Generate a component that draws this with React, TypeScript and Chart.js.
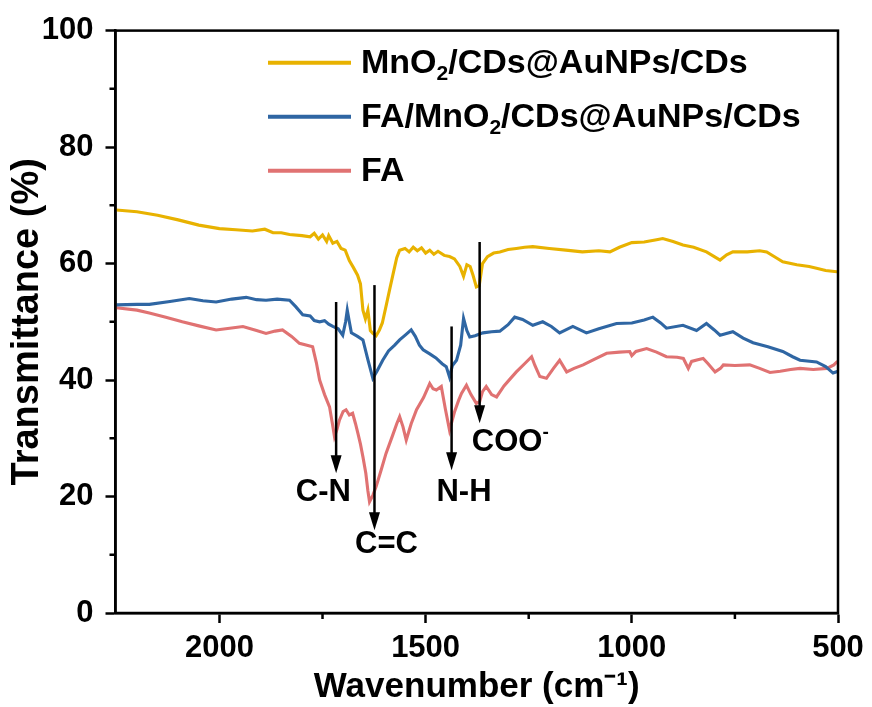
import React, { useEffect, useRef } from 'react';
import { Chart, registerables } from 'chart.js';

Chart.register(...registerables);

const FONT = "'Liberation Sans', Arial, Helvetica, sans-serif";

const SERIES_LABELS = ['MnO₂/CDs@AuNPs/CDs', 'FA/MnO₂/CDs@AuNPs/CDs', 'FA'];
const SERIES_COLORS = ['#E8B200', '#2F66A3', '#E07272'];

// MnO2/CDs@AuNPs/CDs
const mnWn = [2250, 2200, 2150, 2100, 2050, 2000, 1960, 1920, 1890, 1870, 1850, 1830, 1800, 1780, 1770, 1760, 1750, 1740, 1735, 1725, 1715, 1705, 1695, 1685, 1675, 1665, 1658, 1652, 1646, 1640, 1634, 1628, 1620, 1612, 1605, 1595, 1587, 1578, 1570, 1563, 1550, 1540, 1530, 1520, 1510, 1500, 1490, 1480, 1470, 1455, 1442, 1430, 1417, 1408, 1400, 1392, 1385, 1377, 1370, 1362, 1350, 1335, 1320, 1300, 1280, 1260, 1240, 1200, 1160, 1120, 1080, 1053, 1030, 1000, 970, 940, 925, 900, 876, 850, 819, 800, 786, 770, 755, 720, 690, 673, 650, 634, 600, 570, 552, 530, 503, 500];
const mnT = [69.2, 68.9, 68.3, 67.5, 66.6, 66.0, 65.8, 65.6, 65.9, 65.3, 65.3, 65.0, 64.8, 64.6, 65.2, 64.2, 64.9, 63.8, 64.8, 63.5, 63.8, 62.6, 62.3, 60.5, 59.3, 58.0, 56.5, 52.0, 50.5, 52.0, 48.5, 48.0, 47.6, 48.6, 49.8, 53.0, 55.6, 58.5, 61.0, 62.3, 62.6, 62.0, 62.8, 62.2, 62.7, 61.8, 62.3, 61.6, 62.1, 61.4, 61.2, 60.8, 59.5, 57.8, 59.8, 59.5, 58.0, 56.0, 56.2, 60.0, 61.2, 61.8, 62.0, 62.4, 62.6, 62.8, 62.9, 62.6, 62.3, 62.0, 62.2, 62.0, 62.8, 63.6, 63.7, 64.1, 64.3, 63.8, 63.2, 62.8, 62.0, 61.2, 60.6, 61.5, 62.0, 62.0, 62.2, 62.0, 61.0, 60.3, 59.8, 59.5, 59.2, 58.8, 58.6, 58.6];

// FA/MnO2/CDs@AuNPs/CDs
const faMnWn = [2250, 2200, 2170, 2120, 2073, 2040, 2008, 1970, 1935, 1910, 1887, 1860, 1830, 1815, 1798, 1780, 1770, 1757, 1745, 1735, 1725, 1712, 1701, 1694, 1690, 1685, 1680, 1665, 1652, 1640, 1628, 1618, 1604, 1590, 1575, 1563, 1548, 1535, 1525, 1515, 1506, 1490, 1475, 1460, 1450, 1442, 1435, 1425, 1415, 1408, 1400, 1393, 1380, 1361, 1340, 1320, 1300, 1284, 1265, 1240, 1216, 1195, 1175, 1143, 1110, 1080, 1037, 1000, 970, 949, 930, 916, 876, 843, 819, 800, 786, 755, 730, 706, 670, 634, 610, 592, 552, 530, 512, 500];
const faMnT = [52.9, 53.0, 53.0, 53.5, 54.0, 53.6, 53.4, 53.9, 54.2, 53.8, 53.7, 53.9, 53.7, 52.6, 51.2, 51.0, 50.2, 50.0, 50.2, 49.6, 49.2, 48.8, 47.7, 50.0, 52.0, 50.0, 48.1, 47.5, 46.9, 43.5, 40.3, 41.5, 43.4, 45.0, 46.0, 46.9, 47.8, 48.6, 47.5, 46.0, 45.2, 44.5, 43.8, 42.8, 42.3, 40.5, 42.5, 43.4, 46.0, 50.6, 48.5, 47.4, 47.6, 48.1, 48.3, 48.4, 49.5, 50.8, 50.4, 49.4, 50.0, 49.2, 48.1, 49.2, 48.1, 48.8, 49.7, 49.8, 50.3, 50.8, 49.8, 48.9, 49.4, 48.5, 49.7, 48.6, 47.7, 48.3, 47.2, 46.4, 45.7, 44.9, 44.0, 43.4, 43.1, 42.3, 41.2, 41.5];

// FA
const faWn = [2250, 2200, 2170, 2130, 2090, 2050, 2008, 1975, 1943, 1910, 1887, 1865, 1847, 1825, 1806, 1790, 1774, 1765, 1757, 1745, 1733, 1726, 1721, 1715, 1709, 1700, 1693, 1685, 1677, 1670, 1664, 1658, 1652, 1645, 1640, 1636, 1628, 1620, 1608, 1596, 1580, 1570, 1563, 1555, 1547, 1535, 1522, 1505, 1490, 1482, 1474, 1462, 1452, 1442, 1430, 1420, 1413, 1401, 1390, 1377, 1369, 1362, 1353, 1340, 1328, 1310, 1295, 1280, 1260, 1243, 1235, 1223, 1207, 1190, 1175, 1158, 1140, 1118, 1090, 1061, 1030, 1005, 1000, 990, 964, 940, 916, 890, 875, 863, 855, 840, 827, 815, 798, 785, 778, 750, 714, 690, 665, 640, 615, 592, 560, 527, 510, 503, 500];
const faT = [52.4, 52.0, 51.5, 50.8, 50.0, 49.3, 48.6, 48.9, 49.2, 48.5, 48.0, 48.4, 48.6, 47.5, 46.3, 46.0, 45.7, 43.0, 40.0, 37.5, 35.4, 32.5, 30.3, 31.5, 33.1, 34.6, 34.9, 34.0, 34.3, 32.5, 30.8, 29.0, 26.8, 24.0, 21.0, 19.1, 20.2, 21.7, 24.5, 27.4, 30.5, 32.5, 33.7, 32.0, 29.7, 32.5, 34.9, 37.0, 39.4, 38.5, 38.3, 38.9, 35.0, 31.4, 34.5, 36.5, 37.7, 39.1, 37.5, 36.0, 36.3, 38.0, 38.9, 37.5, 37.1, 39.0, 40.2, 41.4, 42.8, 44.0, 42.5, 40.6, 40.3, 42.0, 43.4, 41.4, 42.0, 42.6, 43.6, 44.6, 44.8, 44.9, 44.2, 44.9, 45.4, 44.8, 44.0, 43.9, 43.7, 42.0, 43.2, 43.5, 43.7, 42.8, 41.4, 42.0, 42.6, 42.5, 42.6, 42.0, 41.3, 41.5, 41.8, 42.0, 41.8, 42.0, 42.6, 43.1, 43.2];

const X_MIN = 500;
const X_MAX = 2252;
const xMajorTicks = [2000, 1500, 1000, 500];
const xMinorTicks = [1750, 1250, 750];
const yMajorTicks = [0, 20, 40, 60, 80, 100];
const yMinorTicks = [10, 30, 50, 70, 90];

// peak annotations
const arrowWn = [1717, 1624, 1437, 1369];
const arrowFrom = [53.4, 56.3, 49.2, 63.7];
const arrowTo = [24.0, 14.2, 24.5, 32.6];
const labelText = ['C-N', 'C=C', 'N-H', 'COO'];
const labelSup = ['', '', '', '-'];
const labelWn = [1748, 1595, 1407, 1388];
const labelT = [20.7, 11.8, 20.7, 29.2];
const labelAlign = ['center', 'center', 'center', 'left'];

const toPoints = (xs: number[], ys: number[]) => xs.map((x, i) => ({ x, y: ys[i] }));

type Part = { t: string; k: 'n' | 'sub' | 'sup' };

function drawRich(ctx: CanvasRenderingContext2D, parts: Part[], x: number, y: number, size: number, align: string) {
  const fontFor = (k: string) => `bold ${k === 'n' ? size : Math.round(size * 0.62)}px ${FONT}`;
  let total = 0;
  const widths = parts.map((p) => {
    ctx.font = fontFor(p.k);
    const w = ctx.measureText(p.t).width;
    total += w;
    return w;
  });
  let cx = align === 'center' ? x - total / 2 : align === 'right' ? x - total : x;
  ctx.textAlign = 'left';
  ctx.textBaseline = 'middle';
  parts.forEach((p, i) => {
    ctx.font = fontFor(p.k);
    const dy = p.k === 'sub' ? size * 0.3 : p.k === 'sup' ? -size * 0.32 : 0;
    ctx.fillText(p.t, cx, y + dy);
    cx += widths[i];
  });
}

function parseLabel(s: string): Part[] {
  const parts: Part[] = [];
  let buf = '';
  for (const ch of s) {
    if (ch === '₂') {
      if (buf) parts.push({ t: buf, k: 'n' });
      parts.push({ t: '2', k: 'sub' });
      buf = '';
    } else buf += ch;
  }
  if (buf) parts.push({ t: buf, k: 'n' });
  return parts;
}

const framePlugin = {
  id: 'frameAndExtras',
  afterDatasetsDraw(chart: any) {
    const { ctx, chartArea, scales } = chart;
    const xs = scales.x;
    const ys = scales.y;
    ctx.save();
    // frame
    ctx.strokeStyle = '#000';
    ctx.lineWidth = 2.5;
    ctx.strokeRect(chartArea.left, chartArea.top, chartArea.right - chartArea.left, chartArea.bottom - chartArea.top);
    // minor ticks
    ctx.beginPath();
    xMinorTicks.forEach((v) => {
      const px = xs.getPixelForValue(v);
      ctx.moveTo(px, chartArea.bottom);
      ctx.lineTo(px, chartArea.bottom + 6);
    });
    yMinorTicks.forEach((v) => {
      const py = ys.getPixelForValue(v);
      ctx.moveTo(chartArea.left, py);
      ctx.lineTo(chartArea.left - 6, py);
    });
    ctx.stroke();

    // arrows
    ctx.fillStyle = '#000';
    arrowWn.forEach((wn, i) => {
      const px = xs.getPixelForValue(wn);
      const y0 = ys.getPixelForValue(arrowFrom[i]);
      const y1 = ys.getPixelForValue(arrowTo[i]);
      ctx.lineWidth = 2.5;
      ctx.beginPath();
      ctx.moveTo(px, y0);
      ctx.lineTo(px, y1 - 10);
      ctx.stroke();
      ctx.beginPath();
      ctx.moveTo(px, y1);
      ctx.lineTo(px - 5.5, y1 - 18);
      ctx.lineTo(px + 5.5, y1 - 18);
      ctx.closePath();
      ctx.fill();
    });
    // labels
    labelText.forEach((t, i) => {
      const px = xs.getPixelForValue(labelWn[i]);
      const py = ys.getPixelForValue(labelT[i]);
      const parts: Part[] = [{ t, k: 'n' }];
      if (labelSup[i]) parts.push({ t: labelSup[i], k: 'sup' });
      drawRich(ctx, parts, px, py, 31, labelAlign[i]);
    });

    // legend
    const lx0 = chartArea.left + 152.5;
    const lx1 = chartArea.left + 235.5;
    const tx = chartArea.left + 245.5;
    chart.data.datasets.forEach((ds: any, i: number) => {
      const ly = chartArea.top + 32.2 + i * 54;
      ctx.strokeStyle = ds.borderColor;
      ctx.lineWidth = 4;
      ctx.beginPath();
      ctx.moveTo(lx0, ly);
      ctx.lineTo(lx1, ly);
      ctx.stroke();
      ctx.fillStyle = '#000';
      drawRich(ctx, parseLabel(ds.label), tx, ly + 1, 34, 'left');
    });
    ctx.restore();
  },
};

export default function App() {
  const ref = useRef<HTMLCanvasElement | null>(null);
  useEffect(() => {
    if (!ref.current) return;
    const tickFont = { family: FONT, weight: 'bold' as const, size: 31 };
    const chart = new Chart(ref.current, {
      type: 'line',
      data: {
        datasets: [
          { label: SERIES_LABELS[0], data: toPoints(mnWn, mnT), borderColor: SERIES_COLORS[0] },
          { label: SERIES_LABELS[1], data: toPoints(faMnWn, faMnT), borderColor: SERIES_COLORS[1] },
          { label: SERIES_LABELS[2], data: toPoints(faWn, faT), borderColor: SERIES_COLORS[2] },
        ],
      },
      options: {
        animation: false,
        responsive: true,
        maintainAspectRatio: false,
        layout: { padding: { top: 30, right: 34, left: 0, bottom: 0 } },
        plugins: { legend: { display: false }, tooltip: { enabled: false } },
        elements: { point: { radius: 0 }, line: { borderWidth: 3.1, tension: 0 } },
        scales: {
          x: {
            type: 'linear',
            reverse: true,
            min: X_MIN,
            max: X_MAX,
            afterBuildTicks: (s: any) => {
              s.ticks = xMajorTicks.map((v) => ({ value: v }));
            },
            afterFit: (s: any) => {
              s.height = 94;
            },
            ticks: {
              font: tickFont,
              color: '#000',
              padding: 7,
              maxRotation: 0,
              autoSkip: false,
              callback: (v: any) => String(v),
            },
            grid: { drawOnChartArea: false, drawTicks: true, tickLength: 10, tickWidth: 2.5, tickColor: '#000' },
            border: { display: true, color: '#000', width: 2.5 },
            title: {
              display: true,
              text: 'Wavenumber (cm⁻¹)',
              color: '#000',
              font: { family: FONT, weight: 'bold', size: 35, lineHeight: 1 },
              padding: { top: 0, bottom: 2 },
            },
          },
          y: {
            min: 0,
            max: 100,
            afterBuildTicks: (s: any) => {
              s.ticks = yMajorTicks.map((v) => ({ value: v }));
            },
            afterFit: (s: any) => {
              s.width = 115.5;
            },
            ticks: { font: tickFont, color: '#000', padding: 12, callback: (v: any) => String(v) },
            grid: { drawOnChartArea: false, drawTicks: true, tickLength: 10, tickWidth: 2.5, tickColor: '#000' },
            border: { display: true, color: '#000', width: 2.5 },
            title: {
              display: true,
              text: 'Transmittance (%)',
              color: '#000',
              font: { family: FONT, weight: 'bold', size: 38, lineHeight: 1 },
              padding: { top: 9, bottom: 0 },
            },
          },
        },
      } as any,
      plugins: [framePlugin],
    });
    return () => chart.destroy();
  }, []);
  return (
    <div style={{ position: 'fixed', left: 0, top: 0, width: 872, height: 707, background: '#fff' }}>
      <canvas ref={ref} />
    </div>
  );
}
